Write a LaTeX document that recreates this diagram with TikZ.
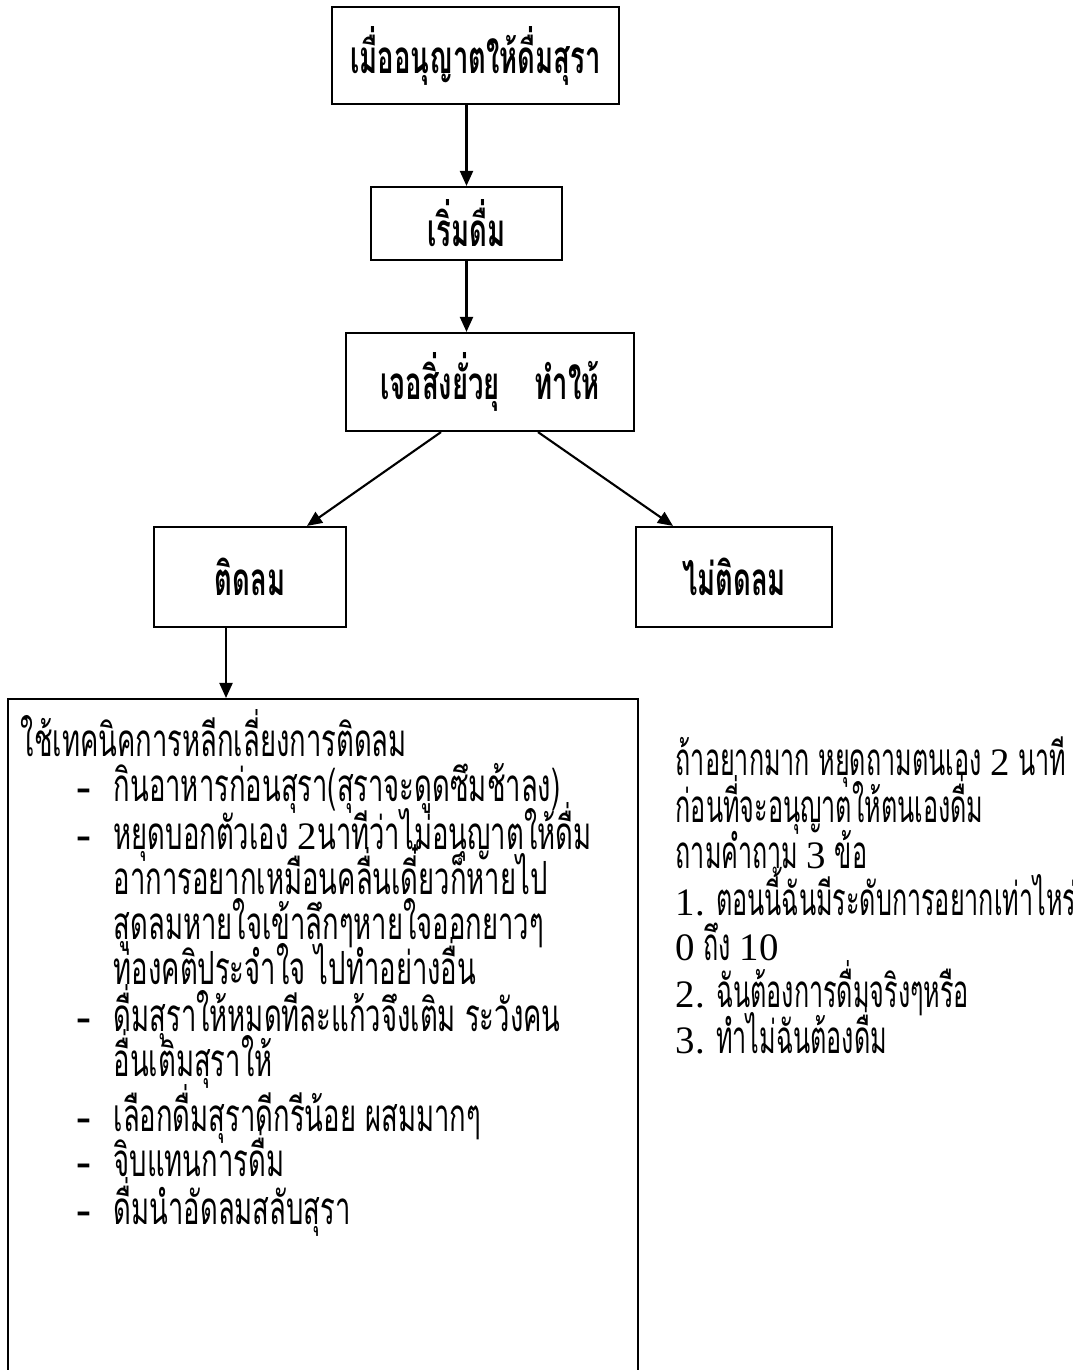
\documentclass[tikz,border=0pt]{standalone}
\usepackage{fontspec}
\setmainfont{Loma}[Script=Thai,FakeStretch=0.6]
\newfontfamily\thainarrow{Loma}[Script=Thai,FakeStretch=0.55]
\newfontfamily\latn{Liberation Serif}[Scale=0.85]
\usetikzlibrary{calc,arrows.meta}

\begin{document}
\begin{tikzpicture}[x=0.01cm,y=-0.01cm,
  txt/.style={font=\fontsize{13}{15}\selectfont,inner sep=0pt,anchor=base west},
  note/.style={font=\thainarrow\fontsize{13}{15}\selectfont,inner sep=0pt,anchor=base west},
  box/.style={draw,line width=0.6pt,font=\fontsize{13}{15}\selectfont\bfseries},
  arr/.style={line width=0.6pt,-{Triangle[length=1.5mm,width=1.3mm]}}]
  \useasboundingbox (0,0) rectangle (1073,1370);
  \clip (0,0) rectangle (1073,1370);
  % boxes of the chart
  \node[box,minimum width=2.87cm,minimum height=0.97cm] (allow) at (475.5,55.5) {เมื่ออนุญาตให้ดื่มสุรา};
  \node[box,minimum width=1.91cm,minimum height=0.73cm] (start) at (466.5,223.5) {เริ่มดื่ม};
  \node[box,minimum width=2.88cm,minimum height=0.98cm] (urge) at (490,382) {เจอสิ่งยั่วยุ\hspace{0.35cm}ทำให้};
  \node[box,minimum width=1.92cm,minimum height=1cm] (hook) at (250,577) {ติดลม};
  \node[box,minimum width=1.96cm,minimum height=1cm] (nohook) at (734,577) {ไม่ติดลม};
  \node[draw,line width=0.6pt,minimum width=6.3cm,minimum height=7.2cm,anchor=north west] (tips) at (7,698) {};
  % arrows
  \draw[arr] (start.north |- allow.south) -- (start.north);
  \draw[arr] (start.south) -- (start.south |- urge.north);
  \draw[arr] ($(urge.south)+(-49,0)$) -- ($(hook.north)+(57,0)$);
  \draw[arr] ($(urge.south)+(48,0)$) -- ($(nohook.north)+(-61,0)$);
  \coordinate (d) at ($(hook.south)+(-24,0)$);
  \draw[arr] (d) -- (d |- tips.north);
  % text inside the big box
  \node[txt] (head) at (20,756) {ใช้เทคนิคการหลีกเลี่ยงการติดลม};
  \foreach \y/\t [count=\i] in {801/กินอาหารก่อนสุรา(สุราจะดูดซึมช้าลง),849/หยุดบอกตัวเอง {\latn 2}นาทีว่าไม่อนุญาตให้ดื่ม,894/อาการอยากเหมือนคลื่นเดี๋ยวก็หายไป,939/สูดลมหายใจเข้าลึกๆหายใจออกยาวๆ,984/ท่องคติประจำใจ ไปทำอย่างอื่น,1031/ดื่มสุราให้หมดทีละแก้วจึงเติม ระวังคน,1076/อื่นเติมสุราให้,1131/เลือกดื่มสุราดีกรีน้อย ผสมมากๆ,1176/จิบแทนการดื่ม,1224/ดื่มนำอัดลมสลับสุรา}
    \node[txt] (l\i) at (113,\y) {\t};
  \foreach \i in {1,2,6,8,9,10}
    \node[txt,anchor=base,font=\latn\fontsize{15}{15}\selectfont\bfseries] (d\i) at (l\i.base west -| 84,0) {-};
  % text to the right
  \foreach \y/\t [count=\i] in {775/ถ้าอยากมาก หยุดถามตนเอง {\latn 2} นาที,822/ก่อนที่จะอนุญาตให้ตนเองดื่ม,868/ถามคำถาม {\latn 3} ข้อ,915/{\latn 1.} ตอนนี้ฉันมีระดับการอยากเท่าไหร่,960/{\latn 0} ถึง {\latn 10},1007/{\latn 2.} ฉันต้องการดื่มจริงๆหรือ,1053/{\latn 3.} ทำไม่ฉันต้องดื่ม}
    \node[note] (r\i) at (675,\y) {\t};
\end{tikzpicture}
\end{document}
